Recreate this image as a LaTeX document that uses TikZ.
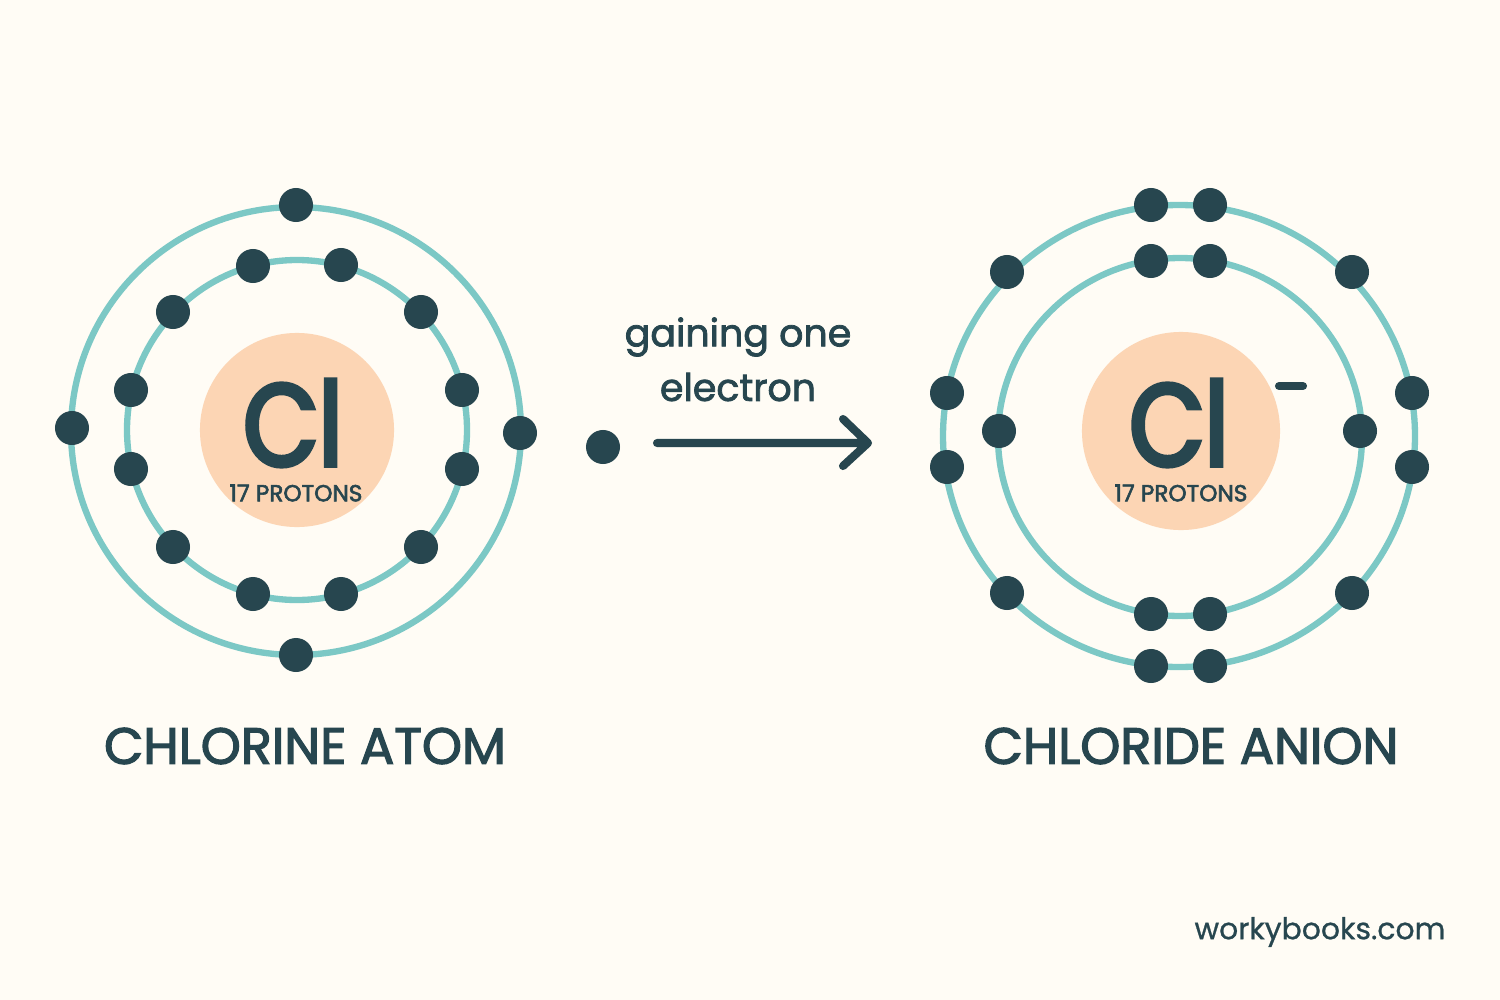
\documentclass[tikz,border=0pt]{standalone}
\usepackage{fontspec}
\setmainfont{Poppins}
\usetikzlibrary{arrows}
\definecolor{paper}{HTML}{FFFCF5}
\definecolor{shell}{HTML}{7CC8C5}
\definecolor{core}{HTML}{FCD5B4}
\definecolor{ink}{HTML}{27464F}
\newcommand{\heavy}[2]{\fontsize{#1}{#1}\selectfont\addfontfeatures{FakeBold=#2}}
\newcommand{\symb}{\fontsize{33pt}{33pt}\selectfont\addfontfeatures{FakeBold=4,FakeStretch=.84}}
\begin{document}
\begin{tikzpicture}[x=.01cm,y=-.01cm,
	every node/.style={text=ink,inner sep=0pt},
	orbit/.style={draw=shell,line width=1.8pt},
	elec/.style={circle,fill=ink,minimum size=.34cm},
	nucleus/.style={circle,fill=core}]
	\fill[paper] (0,0) rectangle (1500,1000);
	\useasboundingbox (0,0) rectangle (1500,1000);

	% left atom
	\draw[orbit] (296,431) ellipse (225 and 224);
	\draw[orbit] (297,430) ellipse (170 and 170);
	\node[nucleus,minimum size=1.94cm] (cl) at (297,430) {};
	\node at (293,423) {\symb Cl};
	\node at (296,493) {\heavy{6.6pt}{2.5}17 PROTONS};

	\foreach \x/\y [count=\i] in {296/205,72/428,520/433,296/655}
		\node[elec] (a\i) at (\x,\y) {};
	\foreach \x/\y [count=\i] in {253/266,341/265,173/312,421/312,131/390,462/390,131/469,462/469,173/547,421/547,253/594,341/594}
		\node[elec] (b\i) at (\x,\y) {};

	% free electron and arrow
	\node[elec] (free) at (603,447) {};
	\node at (738,337) {\heavy{10.8pt}{2}gaining one};
	\node at (738,387) {\heavy{10.8pt}{2}electron};
	\coordinate (s) at (657,443);
	\coordinate (e) at (868,443);
	\coordinate (u) at (843,419);
	\coordinate (d) at (843,466);
	\draw[ink,line width=2.3pt,line cap=round,line join=round] (s)--(e) (u)--(e)--(d);

	% right anion
	\draw[orbit] (1179,436) ellipse (236 and 231);
	\draw[orbit] (1180,437) ellipse (182 and 179);
	\node[nucleus,minimum size=1.98cm] (clm) at (1181,431) {};
	\node at (1179,423) {\symb Cl};
	\node at (1181,493) {\heavy{6.6pt}{2.5}17 PROTONS};
	\coordinate (m1) at (1279,386);
	\coordinate (m2) at (1303,386);
	\draw[ink,line width=2.3pt,line cap=round] (m1)--(m2);

	\foreach \x/\y [count=\i] in {1151/205,1210/205,1007/272,1352/272,947/393,1412/393,947/467,1412/467,1007/593,1352/593,1151/666,1210/666}
		\node[elec] (c\i) at (\x,\y) {};
	\foreach \x/\y [count=\i] in {1151/261,1210/261,999/431,1360/431,1151/614,1210/614}
		\node[elec] (d\i) at (\x,\y) {};

	\node at (305,746) {\heavy{14.5pt}{2.5}CHLORINE ATOM};
	\node at (1191,746) {\heavy{14.5pt}{2.5}CHLORIDE ANION};
	\node at (1320,932) {\heavy{8.5pt}{.8}workybooks.com};
\end{tikzpicture}
\end{document}
